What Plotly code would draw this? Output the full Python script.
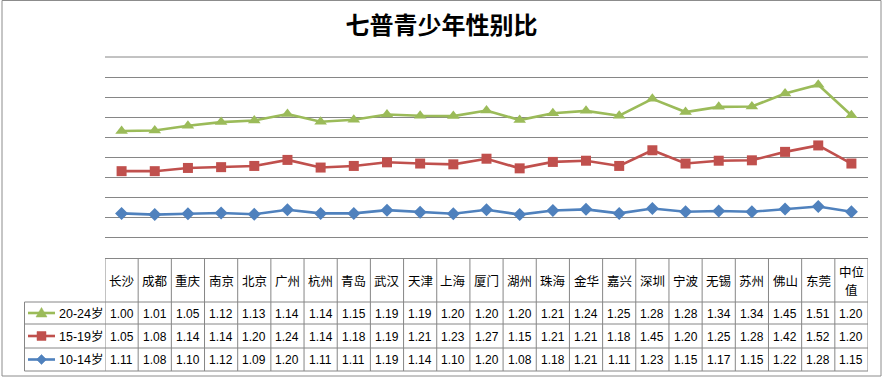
import plotly.graph_objects as go

cities = ["长沙", "成都", "重庆", "南京", "北京", "广州", "杭州", "青岛", "武汉", "天津", "上海",
          "厦门", "湖州", "珠海", "金华", "嘉兴", "深圳", "宁波", "无锡", "苏州", "佛山", "东莞", "中位值"]
r20_24 = [1.00, 1.01, 1.05, 1.12, 1.13, 1.14, 1.14, 1.15, 1.19, 1.19, 1.20, 1.20, 1.20, 1.21, 1.24,
          1.25, 1.28, 1.28, 1.34, 1.34, 1.45, 1.51, 1.20]
r15_19 = [1.05, 1.08, 1.14, 1.14, 1.20, 1.24, 1.14, 1.18, 1.19, 1.21, 1.23, 1.27, 1.15, 1.21, 1.21,
          1.18, 1.45, 1.20, 1.25, 1.28, 1.42, 1.52, 1.20]
r10_14 = [1.11, 1.08, 1.10, 1.12, 1.09, 1.20, 1.11, 1.11, 1.19, 1.14, 1.10, 1.20, 1.08, 1.18, 1.21,
          1.11, 1.23, 1.15, 1.17, 1.15, 1.22, 1.28, 1.15]
names = ["10-14岁", "15-19岁", "20-24岁"]
title = "七普青少年性别比"

W, H = 883, 379
L, R, T, B = 105, 15, 57, 121
GRID = "#868686"
colors = {"10-14岁": "#4F81BD", "15-19岁": "#C0504D", "20-24岁": "#9BBB59"}
symbols = {"10-14岁": "diamond", "15-19岁": "square", "20-24岁": "triangle-up"}
msize = {"10-14岁": 10, "15-19岁": 10, "20-24岁": 11}


def pxx(p):
    return (p - L) / (W - L - R)


def pxy(p):
    return (H - B - p) / (H - T - B)


fig = go.Figure()
xs = list(range(len(cities)))
for nm, vals in zip(names, [r10_14, r15_19, r20_24]):
    fig.add_trace(go.Scatter(
        x=xs, y=vals, name=nm, stackgroup="one", fill="none", mode="lines+markers",
        line=dict(color=colors[nm], width=2.6),
        marker=dict(symbol=symbols[nm], size=msize[nm], color=colors[nm]),
        hoverinfo="skip", cliponaxis=False,
    ))

shapes = []
ann = []
# outer border
shapes.append(dict(type="rect", xref="paper", yref="paper", x0=pxx(2), x1=pxx(881), y0=pxy(0.5), y1=pxy(376),
                   line=dict(color="#8C8C8C", width=1)))
# top gridline (at y = 5, the top of the value range)
shapes.append(dict(type="line", xref="paper", yref="paper", x0=0, x1=1, y0=1, y1=1, line=dict(color=GRID, width=1)))
# table lines
top, r1, r2, r3, bot = 258, 302, 324, 348, 371
leftx = 24.5
for i in range(len(cities) + 1):
    shapes.append(dict(type="line", xref="x", yref="paper", x0=i - 0.5, x1=i - 0.5, y0=pxy(top), y1=pxy(bot),
                       line=dict(color=GRID, width=1)))
shapes.append(dict(type="line", xref="paper", yref="paper", x0=pxx(leftx), x1=pxx(leftx), y0=pxy(r1), y1=pxy(bot),
                   line=dict(color=GRID, width=1)))
for yy in [r1, r2, r3, bot]:
    shapes.append(dict(type="line", xref="paper", yref="paper", x0=pxx(leftx), x1=1, y0=pxy(yy), y1=pxy(yy),
                       line=dict(color=GRID, width=1)))

# header labels
hfont = dict(family="Noto Sans CJK SC", size=12.5, color="black")
for i, c in enumerate(cities):
    if len(c) > 2:
        parts = [(c[:2], 271), (c[2:], 289.5)]
    else:
        parts = [(c, (top + r1) / 2 + 0.5)]
    for t, yy in parts:
        ann.append(dict(x=i, y=pxy(yy), xref="x", yref="paper", text=t, showarrow=False,
                        font=hfont, xanchor="center", yanchor="middle", borderpad=0))

row_order = [("20-24岁", r20_24, (r1 + r2) / 2), ("15-19岁", r15_19, (r2 + r3) / 2), ("10-14岁", r10_14, (r3 + bot) / 2)]
for nm, vals, yc in row_order:
    for i, v in enumerate(vals):
        ann.append(dict(x=i, y=pxy(yc + 0.5), xref="x", yref="paper", text=f"{v:.2f}", showarrow=False,
                        font=dict(family="Liberation Sans", size=12, color="black"), xanchor="center", yanchor="middle"))
    # legend key
    shapes.append(dict(type="line", xref="paper", yref="paper", x0=pxx(28), x1=pxx(55), y0=pxy(yc), y1=pxy(yc),
                       line=dict(color=colors[nm], width=2.6)))
    cx = 41.5
    if symbols[nm] == "triangle-up":
        pts = [(cx - 5.5, yc + 4), (cx + 5.5, yc + 4), (cx, yc - 5.5)]
    elif symbols[nm] == "square":
        pts = [(cx - 4.5, yc - 4.5), (cx + 4.5, yc - 4.5), (cx + 4.5, yc + 4.5), (cx - 4.5, yc + 4.5)]
    else:
        pts = [(cx - 5, yc), (cx, yc - 5), (cx + 5, yc), (cx, yc + 5)]
    path = "M " + " L ".join(f"{pxx(a):.5f},{pxy(b):.5f}" for a, b in pts) + " Z"
    shapes.append(dict(type="path", xref="paper", yref="paper", path=path, fillcolor=colors[nm],
                       line=dict(color=colors[nm], width=0.5)))
    ann.append(dict(x=pxx(57), y=pxy(yc), xref="paper", yref="paper", text=nm, showarrow=False,
                    font=dict(family="Liberation Sans, Noto Sans CJK SC", size=12.5, color="black"),
                    xanchor="left", yanchor="middle"))

fig.update_layout(
    width=W, height=H,
    margin=dict(l=L, r=R, t=T, b=B),
    paper_bgcolor="white", plot_bgcolor="white",
    showlegend=False,
    title=dict(text=title, x=0.5, xref="container", xanchor="center", y=1 - 26 / H, yref="container",
               yanchor="middle", font=dict(family="Noto Sans CJK SC", size=24, color="black", weight="bold")),
    xaxis=dict(range=[-0.5, len(cities) - 0.5], showticklabels=False, showgrid=False, zeroline=False,
               showline=True, linecolor=GRID, linewidth=1, ticks=""),
    yaxis=dict(range=[0, 5], dtick=0.5, showgrid=True, gridcolor=GRID, gridwidth=1, showticklabels=False,
               zeroline=False, showline=False, ticks=""),
    shapes=shapes, annotations=ann,
    hovermode=False,
)
fig.write_html("out.html", config={"displayModeBar": False, "staticPlot": True},
               post_script="document.body.style.margin='0';document.body.style.overflow='hidden';")
